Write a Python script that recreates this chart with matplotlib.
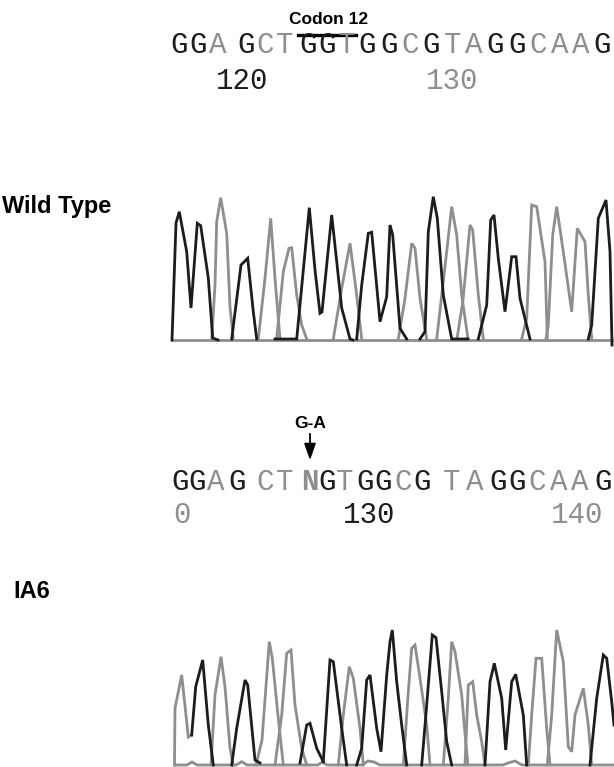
import matplotlib
matplotlib.use("Agg")
import matplotlib.pyplot as plt
from matplotlib.lines import Line2D
from matplotlib.transforms import blended_transform_factory

# Figur in Pixeln: 614 x 767
W, H = 614, 767

# Basen und Positionen (Scan-Einheiten, entsprechen der x-Achse der Chromatogramme)
seq_wt = list("GGAGCTGGTGGCGTAGGCAAG")
seq_wt_x = [179.3, 198.3, 217.3, 246, 265.3, 284.7, 308, 327.3, 346.7, 367.3, 388.7,
            410, 431.3, 452.7, 474, 495.3, 516.7, 538, 559.3, 580.7, 602]
seq_ia6 = list("GGAGCTNGTGGCGTAGGCAAG")
seq_ia6_x = [180, 197.5, 216, 237, 265, 285, 310, 326.7, 345, 365, 383.3,
             403, 421.7, 451.7, 475, 498.3, 516.7, 536.7, 558.3, 580, 603.3]

num_wt = ["120", "130"]
num_wt_x = [242.5, 451.7]
num_ia6 = ["0", "130", "140"]
num_ia6_x = [181.7, 369, 577.5]

# Chromatogramm Wildtyp: Polylinien (Scan, Intensitaet)
wt_schwarz = [
    [(172, 0), (176, 117), (179.3, 128.3), (186.7, 88.3), (191, 32), (197.3, 116.7),
     (200.7, 114.3), (208.3, 62), (212.7, 2), (218, 0)],
    [(231.7, 1), (241, 75), (247.7, 81.7), (253.3, 28.3), (256.7, 1)],
    [(275, 1), (296.7, 1), (309.3, 132.3), (315, 70), (320, 26.7), (322, 28),
     (331.7, 125), (341.7, 32), (350, 1), (353, 0)],
    [(356.7, 1), (361.7, 55), (368.3, 106.7), (371.7, 107.7), (380, 18.3), (386.7, 43.3),
     (390, 115), (392.7, 105), (400, 11.7), (406.7, 1)],
    [(420, 1), (425, 8.3), (428.3, 108.3), (433.3, 143.3), (437.3, 121.7), (443.3, 45),
     (451.7, 1), (468, 1)],
    [(478.3, 1), (486.7, 35), (490.7, 120), (494, 125), (498.3, 81.7), (505, 28.3),
     (511.7, 83.3), (516, 83.3), (520, 41.7), (530, 1)],
    [(588.3, 1), (591.7, 15), (598.3, 121.7), (606, 140), (610, 88.3), (612, -5)],
]
wt_grau = [
    [(172, 0), (612, 0)],
    [(211.7, 1), (215, 55), (216.7, 118.3), (220.7, 142.3), (226.7, 106.7), (230, 33.3), (233.3, 1)],
    [(258.3, 1), (265, 61.7), (270.7, 121.7), (275, 61.7), (280, 1)],
    [(276.7, 2), (283.3, 68.3), (289, 91.7), (291.7, 92.3), (296.7, 45), (301.7, 15), (306.7, 1)],
    [(333.3, 1), (341.7, 51.7), (350, 96.7), (356.7, 45), (361.7, 1)],
    [(398.3, 1), (405, 41.7), (411.7, 96.7), (415, 91.7), (420, 41.7), (426.7, 1)],
    [(436.7, 1), (446.7, 88.3), (451.7, 133.3), (456.7, 105), (461.7, 45), (468, 1)],
    [(457, 1), (463, 40), (470, 115), (472.7, 110), (478.3, 45), (483.3, 1)],
    [(521.7, 1), (526.7, 21.7), (531.7, 135), (536.7, 133.3), (545, 78.3), (547.3, 1)],
    [(546, 1), (548.3, 15), (552.7, 105), (556.7, 133.3), (563.3, 88.3), (571.7, 28.3),
     (577.3, 111.7), (585, 98.3), (588.3, 45), (591.7, 1)],
]

# Chromatogramm IA6
ia6_schwarz = [
    [(191.7, 30), (195.7, 78.3), (202.7, 105), (208.3, 40), (213.3, 0)],
    [(231.7, 0), (236.7, 36.7), (245, 85), (247.7, 80), (255, 5), (260, 2)],
    [(300, 2), (306.7, 40), (310, 41.7), (316.7, 16.7), (323.3, 3.3)],
    [(323.3, 3.3), (330, 105), (333.3, 103.3), (341.7, 36.7), (346.7, 0)],
    [(356.7, 0), (361.7, 16.7), (366.7, 85), (370, 90), (376.7, 36.7), (381, 13.3),
     (386.7, 90), (390, 123.3), (392.3, 135), (396.7, 83.3), (401.7, 40), (406.7, 0)],
    [(421.7, 0), (426.7, 60), (432.3, 130), (436, 127.3), (441.7, 73.3), (446.7, 23.3), (451.7, 0)],
    [(485, 0), (490, 83.3), (494.3, 101.7), (501.7, 66.7), (505.7, 15), (511.7, 83.3),
     (515.7, 90.7), (523.3, 50), (526.7, 0)],
    [(590, 0), (596.7, 66.7), (603.3, 110), (606.7, 106.7), (611.7, 63.3), (614, 40)],
]
ia6_grau = [
    [(175, 0), (187, 0), (192, 3), (197, 0), (236, 0), (241.7, 3.3), (247, 0), (318, 0),
     (322, 3), (327, 0), (362, 0), (368, 4), (374, 3), (380, 0), (503, 0),
     (508, 2), (515, 4), (522, 0), (614, 0)],
    [(174.5, 0), (175, 57), (181.7, 90), (188.3, 28), (191.7, 30)],
    [(211, 0), (215, 70), (221, 108.3), (225, 78.3), (230, 16.7), (233.3, 0)],
    [(256, 0), (262, 25), (269.3, 123.3), (272.3, 106.7), (278.3, 46.7), (283.3, 0)],
    [(275, 0), (281.7, 50), (286.7, 111.7), (291, 115), (295, 60), (301.7, 16.7), (306.7, 0)],
    [(338.3, 0), (343.3, 50), (349.3, 98.3), (353.3, 86.7), (360, 36.7), (363.3, 0)],
    [(403.3, 0), (408.3, 73.3), (411.7, 116.7), (415, 120), (420, 86.7), (426.7, 40), (430, 0)],
    [(443.3, 0), (448.3, 66.7), (451.7, 123.3), (455, 113.3), (461.7, 70), (466, 20), (468, 0)],
    [(465, 0), (468.3, 80), (472.7, 83.3), (476.7, 50), (481.7, 23.3), (485, 0)],
    [(528.3, 0), (531.7, 50), (536, 106.7), (541.7, 106.7), (546.7, 36.7), (550, 0)],
    [(547.3, 0), (551.7, 50), (556.7, 135), (563.3, 103.3), (568.3, 18.3), (571.7, 13.3),
     (575, 50), (583.3, 76.7), (588.3, 40), (591.7, 0)],
]

SCHWARZ = "#1c1c1c"
GRAU = "#8e8e8e"


def fy(y_px):
    return 1 - y_px / H


def basen_farbe(b):
    if b == "G":
        return SCHWARZ
    return GRAU


def zeichne_spuren(ax, spuren, farbe):
    for spur in spuren:
        xs = [p[0] for p in spur]
        ys = [p[1] for p in spur]
        ax.plot(xs, ys, color=farbe, lw=2.0, solid_joinstyle="miter", clip_on=False)


fig = plt.figure(figsize=(W / 100, H / 100), dpi=100)
fig.patch.set_facecolor("white")

x0 = 165 / W
ax_wt = fig.add_axes([x0, fy(350), 1 - x0, 165 / H])
ax_wt.set_xlim(165, 614)
ax_wt.set_ylim(-10, 155)
ax_wt.axis("off")
zeichne_spuren(ax_wt, wt_grau, GRAU)
zeichne_spuren(ax_wt, wt_schwarz, SCHWARZ)

ax_ia = fig.add_axes([x0, 0, 1 - x0, 152 / H])
ax_ia.set_xlim(165, 614)
ax_ia.set_ylim(-2, 150)
ax_ia.axis("off")
zeichne_spuren(ax_ia, ia6_grau, GRAU)
zeichne_spuren(ax_ia, ia6_schwarz, SCHWARZ)

trans = blended_transform_factory(ax_wt.transData, fig.transFigure)
seq_font = dict(family="Liberation Mono", fontsize=21, ha="center", va="center")

# Obere Sequenz (Wildtyp)
for b, x in zip(seq_wt, seq_wt_x):
    fig.text(x, fy(45), b, transform=trans, color=basen_farbe(b), **seq_font)
for t, x, c in zip(num_wt, num_wt_x, [SCHWARZ, GRAU]):
    fig.text(x, fy(81), t, transform=trans, color=c, **seq_font)

# Codon 12
fig.text(329, fy(20), "Codon 12", transform=trans, ha="center", va="center",
         fontsize=12.5, fontweight="bold", family="Liberation Sans")
fig.add_artist(Line2D([298, 356], [fy(35), fy(35)], transform=trans, color="black", lw=2.4))

# Sequenz IA6
for b, x in zip(seq_ia6, seq_ia6_x):
    if b == "N":
        fig.text(x, fy(482), b, transform=trans, color=GRAU, fontweight="bold", **seq_font)
    else:
        fig.text(x, fy(482), b, transform=trans, color=basen_farbe(b), **seq_font)
for t, x, c in zip(num_ia6, num_ia6_x, [GRAU, SCHWARZ, GRAU]):
    fig.text(x, fy(515), t, transform=trans, color=c, **seq_font)

# Mutation G-A mit Pfeil
fig.text(310, fy(423), "G-A", transform=trans, ha="center", va="center",
         fontsize=12.5, fontweight="bold", family="Liberation Sans")
ax_wt.annotate("", xy=(310, fy(463)), xytext=(310, fy(431)), xycoords=trans, textcoords=trans,
               arrowprops=dict(arrowstyle="-|>,head_length=1.0,head_width=0.35", color="black", lw=1.3))

# Probenbezeichnungen
fig.text(2 / W, fy(206), "Wild Type", ha="left", va="center", fontsize=17,
         fontweight="bold", family="Liberation Sans")
fig.text(13 / W, fy(592), "IA6", ha="left", va="center", fontsize=17,
         fontweight="bold", family="Liberation Sans")

fig.savefig("out.png", dpi=100, facecolor="white")
